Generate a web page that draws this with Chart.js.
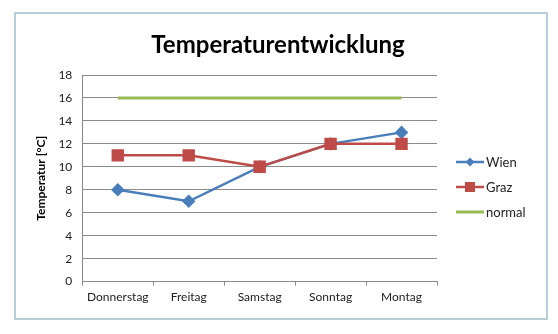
<!DOCTYPE html>
<html lang="de">
<head>
<meta charset="utf-8">
<script src="https://cdn.jsdelivr.net/npm/chart.js@4.4.0/dist/chart.umd.min.js"></script>
<style>
  body { margin: 0; background: #fff; }
  #wrap { position: relative; width: 558px; height: 334px; }
  #frame { position: absolute; left: 14px; top: 12px; width: 530px; height: 304px;
           border: 2px solid #b9cdd8; box-sizing: content-box; }
  canvas { position: absolute; left: 0; top: 0; }
</style>
</head>
<body>
<div id="wrap">
  <div id="frame"></div>
  <canvas id="myChart" width="558" height="334"></canvas>
</div>
<script>
const days = ['Donnerstag', 'Freitag', 'Samstag', 'Sonntag', 'Montag'];
const wien = [8, 7, 10, 12, 13];
const graz = [11, 11, 10, 12, 12];
const normal = [16, 16, 16, 16, 16];
const chartTitle = 'Temperaturentwicklung';

// title centred on the whole frame + legend on the right, like the office chart
const sideLegend = {
  id: 'sideLegend',
  afterDraw(chart) {
    const ctx = chart.ctx;
    ctx.save();
    ctx.fillStyle = '#000';
    ctx.font = 'bold 24px Lato';
    ctx.textAlign = 'center';
    ctx.textBaseline = 'middle';
    ctx.fillText(chartTitle, 278, 45);

    const ys = [162, 187, 212];
    ctx.textAlign = 'left';
    chart.data.datasets.forEach((ds, i) => {
      const y = ys[i];
      ctx.strokeStyle = ds.borderColor;
      ctx.lineWidth = ds.borderWidth;
      ctx.beginPath();
      ctx.moveTo(456, y);
      ctx.lineTo(484, y);
      ctx.stroke();
      if (ds.pointRadius > 0) {
        ctx.fillStyle = ds.backgroundColor;
        if (ds.pointStyle === 'rect') {
          ctx.fillRect(470 - 5, y - 5, 10, 10);
        } else {
          ctx.beginPath();
          ctx.moveTo(470, y - 4.5);
          ctx.lineTo(474.5, y);
          ctx.lineTo(470, y + 4.5);
          ctx.lineTo(465.5, y);
          ctx.closePath();
          ctx.fill();
        }
      }
      ctx.fillStyle = '#222';
      ctx.font = '13px Lato';
      ctx.textBaseline = 'middle';
      ctx.fillText(ds.label, 486, y + 1);
    });
    ctx.restore();
  }
};

const ctx = document.getElementById('myChart').getContext('2d');
const myChart = new Chart(ctx, {
  type: 'line',
  data: {
    labels: days,
    datasets: [
      {
        label: 'Wien',
        data: wien,
        borderColor: '#4a7ebb',
        backgroundColor: '#4a7ebb',
        borderWidth: 2.5,
        pointStyle: 'rectRot',
        pointRadius: 5,
        pointHoverRadius: 5,
        tension: 0,
        order: 2
      },
      {
        label: 'Graz',
        data: graz,
        borderColor: '#be4b48',
        backgroundColor: '#be4b48',
        borderWidth: 2.5,
        pointStyle: 'rect',
        pointRadius: 7,
        pointHoverRadius: 7,
        tension: 0,
        order: 1
      },
      {
        label: 'normal',
        data: normal,
        borderColor: '#98b954',
        backgroundColor: '#98b954',
        borderWidth: 3,
        pointRadius: 0,
        tension: 0,
        order: 3
      }
    ]
  },
  options: {
    responsive: false,
    animation: false,
    layout: { padding: { left: 34, right: 121, top: 75, bottom: 26 } },
    plugins: {
      legend: { display: false },
      tooltip: { enabled: false },
      title: { display: false }
    },
    scales: {
      x: {
        offset: true,
        grid: { display: true, drawOnChartArea: false, color: '#888', tickLength: 4, offset: true },
        border: { color: '#888' },
        ticks: { color: '#222', font: { family: 'Lato', size: 12 }, padding: 4 }
      },
      y: {
        min: 0,
        max: 18,
        ticks: { stepSize: 2, color: '#222', font: { family: 'Lato', size: 12 }, padding: 10 },
        grid: { color: '#8c8c8c', drawTicks: false },
        border: { color: '#888' },
        title: {
          display: true,
          text: 'Temperatur [°C]',
          color: '#000',
          font: { family: 'Lato', size: 12, weight: 'bold' },
          padding: { top: 0, bottom: 0 }
        }
      }
    }
  },
  plugins: [sideLegend]
});
</script>
</body>
</html>
